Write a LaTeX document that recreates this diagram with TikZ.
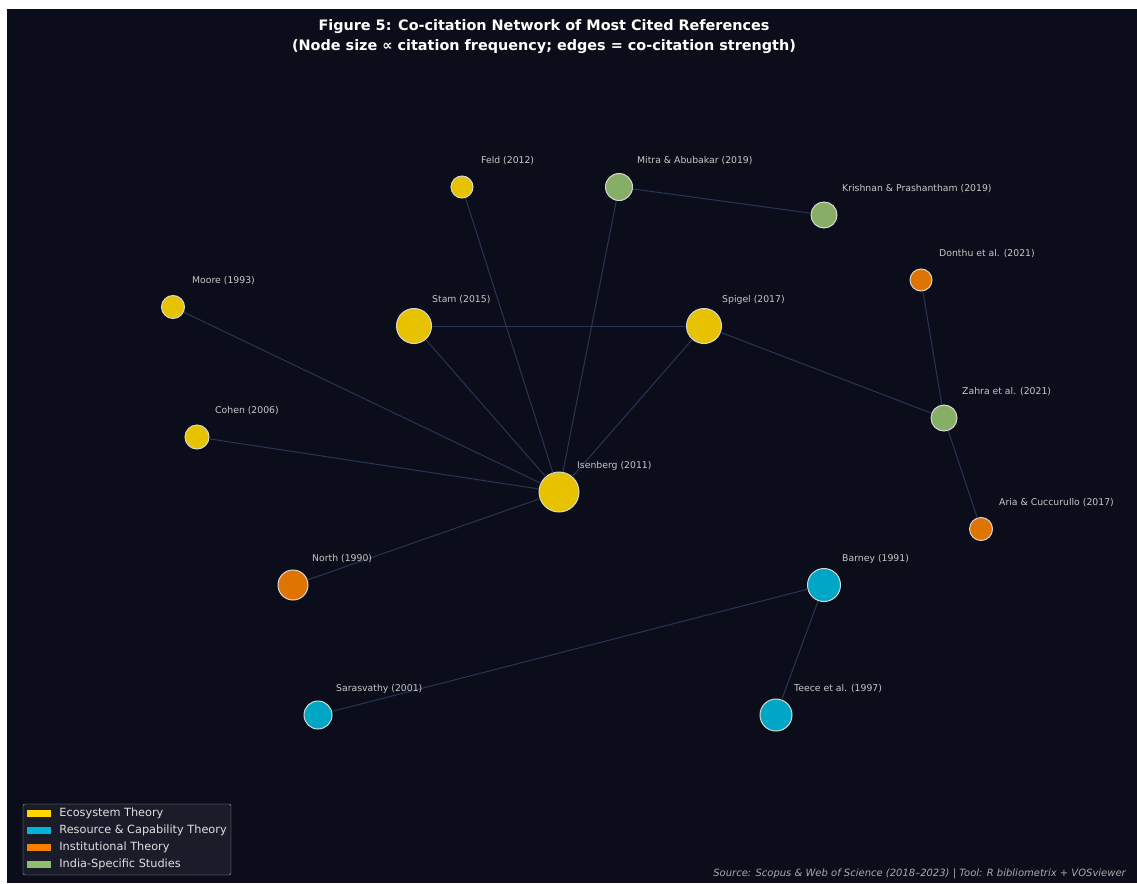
\documentclass[tikz,border=0pt]{standalone}
\usepackage{fontspec}
\setmainfont{DejaVu Sans}
\usepackage{tikz}
\usetikzlibrary{positioning}

\definecolor{bgnavy}{HTML}{0B0E1A}
\definecolor{edgeblue}{HTML}{283554}
\definecolor{rimgray}{HTML}{D8D8D0}
\definecolor{lblgray}{HTML}{C8C8C8}
\definecolor{ecofill}{HTML}{E6C200}
\definecolor{rbvfill}{HTML}{00A6C6}
\definecolor{instfill}{HTML}{E07402}
\definecolor{indiafill}{HTML}{86AE66}
\definecolor{ecokey}{HTML}{FFD700}
\definecolor{rbvkey}{HTML}{00B4D8}
\definecolor{instkey}{HTML}{F77F00}
\definecolor{indiakey}{HTML}{90BE6D}
\definecolor{keybg}{HTML}{1B1C2A}

\tikzstyle{ref} = [circle, draw=rimgray, line width=1pt, inner sep=0pt]
\tikzstyle{eco} = [ref, fill=ecofill]
\tikzstyle{rbv} = [ref, fill=rbvfill]
\tikzstyle{inst} = [ref, fill=instfill]
\tikzstyle{india} = [ref, fill=indiafill]
\tikzstyle{lbl} = [anchor=west, inner sep=0pt, text=lblgray, font=\fontsize{9.3}{11}\selectfont]
\tikzstyle{edge} = [draw=edgeblue, line width=1pt]
\tikzstyle{keypatch} = [rectangle, inner sep=0pt, minimum width=24pt, minimum height=7pt]
\tikzstyle{keytext} = [anchor=west, inner sep=0pt, text=white!88!black, font=\fontsize{11.3}{13}\selectfont]

\begin{document}
\begin{tikzpicture}[x=1pt, y=-1pt]
  % canvas
  \useasboundingbox (0,0) rectangle (1137,883);
  \fill[white] (0,0) rectangle (1137,883);
  \fill[bgnavy] (7,9) rectangle (1137,883);

  % title
  \node (title) [align=center, text=white, font=\bfseries\fontsize{14.4}{20}\selectfont] at (544,37)
    {Figure 5: Co-citation Network of Most Cited References\\(Node size ∝ citation frequency; edges = co-citation strength)};

  % references
  \node (feld) [eco, minimum size=22pt] at (462,187) {};
  \node (mitra) [india, minimum size=27pt] at (619,187) {};
  \node (krish) [india, minimum size=26pt] at (824,215) {};
  \node (donthu) [inst, minimum size=22pt] at (921,280) {};
  \node (moore) [eco, minimum size=23pt] at (173,307) {};
  \node (stam) [eco, minimum size=35pt] at (414,326) {};
  \node (spigel) [eco, minimum size=35pt] at (704,326) {};
  \node (cohen) [eco, minimum size=24pt] at (197,437) {};
  \node (zahra) [india, minimum size=26pt] at (944,418) {};
  \node (isen) [eco, minimum size=40pt] at (559,492) {};
  \node (aria) [inst, minimum size=23pt] at (981,529) {};
  \node (north) [inst, minimum size=30pt] at (293,585) {};
  \node (barney) [rbv, minimum size=33pt] at (824,585) {};
  \node (saras) [rbv, minimum size=28pt] at (318,715) {};
  \node (teece) [rbv, minimum size=32pt] at (776,715) {};

  % co-citation links
  \draw [edge] (isen) -- (feld);
  \draw [edge] (isen) -- (mitra);
  \draw [edge] (isen) -- (stam);
  \draw [edge] (isen) -- (spigel);
  \draw [edge] (isen) -- (moore);
  \draw [edge] (isen) -- (cohen);
  \draw [edge] (isen) -- (north);
  \draw [edge] (stam) -- (spigel);
  \draw [edge] (mitra) -- (krish);
  \draw [edge] (spigel) -- (zahra);
  \draw [edge] (donthu) -- (zahra);
  \draw [edge] (zahra) -- (aria);
  \draw [edge] (barney) -- (saras);
  \draw [edge] (barney) -- (teece);

  % labels
  \node (feldt) [lbl] at (481,161) {Feld (2012)};
  \node (mitrat) [lbl] at (637,161) {Mitra \& Abubakar (2019)};
  \node (krisht) [lbl] at (842,189) {Krishnan \& Prashantham (2019)};
  \node (donthut) [lbl] at (939,254) {Donthu et al. (2021)};
  \node (mooret) [lbl] at (192,281) {Moore (1993)};
  \node (stamt) [lbl] at (432,300) {Stam (2015)};
  \node (spigelt) [lbl] at (722,300) {Spigel (2017)};
  \node (cohent) [lbl] at (215,411) {Cohen (2006)};
  \node (zahrat) [lbl] at (962,392) {Zahra et al. (2021)};
  \node (isent) [lbl] at (577,466) {Isenberg (2011)};
  \node (ariat) [lbl] at (999,503) {Aria \& Cuccurullo (2017)};
  \node (northt) [lbl] at (312,559) {North (1990)};
  \node (barneyt) [lbl] at (842,559) {Barney (1991)};
  \node (sarast) [lbl] at (336,689) {Sarasvathy (2001)};
  \node (teecet) [lbl] at (794,689) {Teece et al. (1997)};

  % legend
  \draw [draw=gray!70, fill=keybg, rounded corners=2pt] (23,804) rectangle (231,875);
  \node (keyeco) [keypatch, fill=ecokey] at (39,813) {};
  \node (keyrbv) [keypatch, fill=rbvkey] at (39,830.5) {};
  \node (keyinst) [keypatch, fill=instkey] at (39,847.5) {};
  \node (keyindia) [keypatch, fill=indiakey] at (39,864) {};
  \node (keyecot) [keytext, right=8pt of keyeco] {Ecosystem Theory};
  \node (keyrbvt) [keytext, right=8pt of keyrbv] {Resource \& Capability Theory};
  \node (keyinstt) [keytext, right=8pt of keyinst] {Institutional Theory};
  \node (keyindiat) [keytext, right=8pt of keyindia] {India-Specific Studies};

  % source note
  \node (source) [anchor=east, inner sep=0pt, text=lblgray!85!black, font=\itshape\fontsize{10}{12}\selectfont] at (1126,874)
    {Source: Scopus \& Web of Science (2018–2023) | Tool: R bibliometrix + VOSviewer};
\end{tikzpicture}
\end{document}
